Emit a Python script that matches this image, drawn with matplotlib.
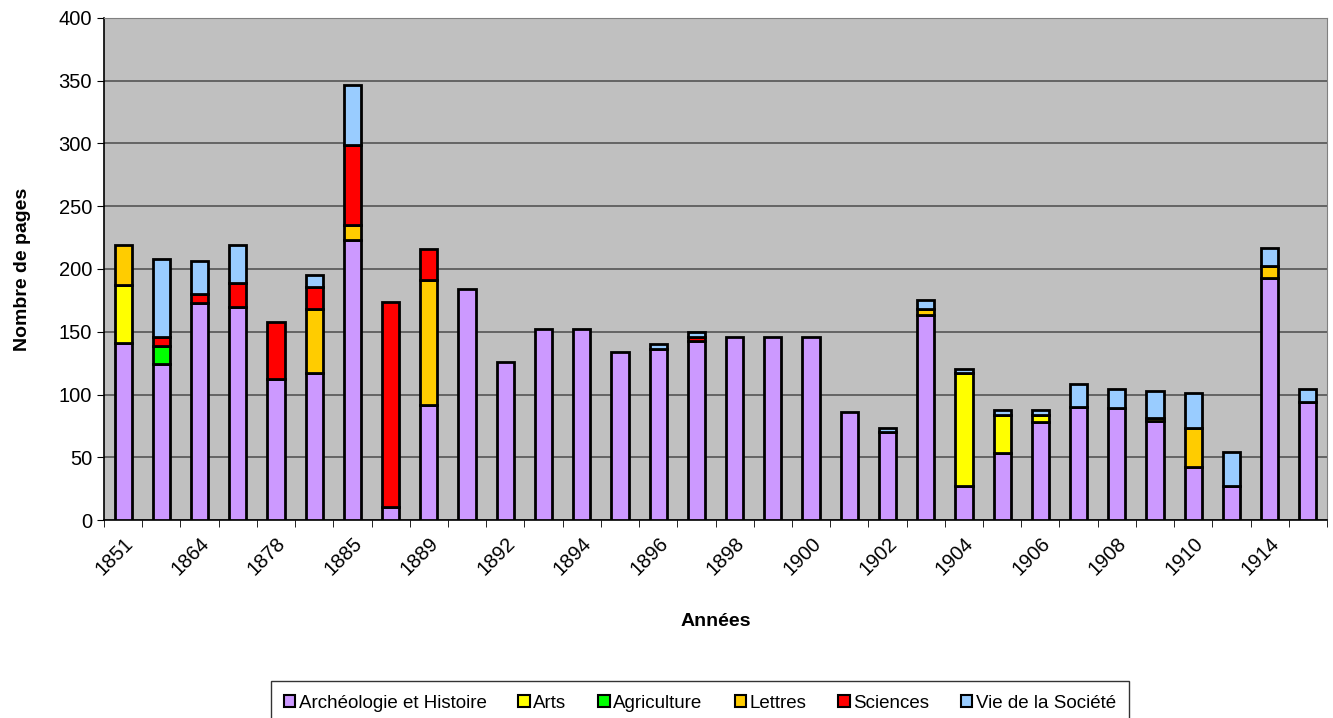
import matplotlib.pyplot as plt
import numpy as np

plt.rcParams['font.family'] = ['Liberation Sans', 'DejaVu Sans']

# one label every other bar, as on the original axis
years = ["1851", "", "1864", "", "1878", "", "1885", "", "1889", "", "1892", "",
         "1894", "", "1896", "", "1898", "", "1900", "", "1902", "", "1904", "",
         "1906", "", "1908", "", "1910", "", "1914", ""]

archeo = [141, 124, 173, 170, 112, 117, 223, 10, 92, 184, 126, 152, 152, 134, 136, 143,
          146, 146, 146, 86, 70, 163, 27, 53, 78, 90, 89, 79, 42, 27, 193, 94]
arts = [46, 0, 0, 0, 0, 0, 0, 0, 0, 0, 0, 0, 0, 0, 0, 0,
        0, 0, 0, 0, 0, 0, 90, 31, 6, 0, 0, 2, 0, 0, 0, 0]
agri = [0, 15, 0, 0, 0, 0, 0, 0, 0, 0, 0, 0, 0, 0, 0, 0,
        0, 0, 0, 0, 0, 0, 0, 0, 0, 0, 0, 0, 0, 0, 0, 0]
lettres = [32, 0, 0, 0, 0, 51, 12, 0, 99, 0, 0, 0, 0, 0, 0, 0,
           0, 0, 0, 0, 0, 5, 0, 0, 0, 0, 0, 0, 31, 0, 9, 0]
sciences = [0, 7, 7, 19, 46, 18, 64, 164, 25, 0, 0, 0, 0, 0, 0, 3,
            0, 0, 0, 0, 0, 0, 0, 0, 0, 0, 0, 0, 0, 0, 0, 0]
vie = [0, 62, 26, 30, 0, 9, 48, 0, 0, 0, 0, 0, 0, 0, 4, 4,
       0, 0, 0, 0, 3, 7, 3, 4, 4, 18, 15, 22, 28, 27, 15, 10]

series = [
    ("Archéologie et Histoire", archeo, "#CC99FF"),
    ("Arts", arts, "#FFFF00"),
    ("Agriculture", agri, "#00FF00"),
    ("Lettres", lettres, "#FFCC00"),
    ("Sciences", sciences, "#FF0000"),
    ("Vie de la Société", vie, "#99CCFF"),
]

fig = plt.figure(figsize=(13.33, 7.18), dpi=100)
ax = fig.add_axes([104 / 1333, 1 - 520 / 718, 1223 / 1333, 502 / 718])
ax.set_facecolor("#C0C0C0")

x = np.arange(len(years))
bottom = np.zeros(len(years))
for name, vals, col in series:
    vals = np.array(vals, dtype=float)
    m = vals > 0  # skip empty segments so they leave no extra edge line
    ax.bar(x[m], vals[m], width=0.45, bottom=bottom[m], color=col, edgecolor="black",
           linewidth=2, label=name, zorder=3)
    bottom += vals

ax.set_xlim(-0.5, len(years) - 0.5)
ax.set_ylim(0, 400)
ax.set_yticks(range(0, 401, 50))
ax.yaxis.grid(True, color="#555555", linewidth=1.2, zorder=1)

ax.set_xticks(x)
ax.set_xticklabels(years, rotation=45, ha="right", rotation_mode="anchor", fontsize=14.5)
ax.tick_params(axis="x", length=0, pad=10)
ax.set_xticks(np.arange(-0.5, len(years)), minor=True)
ax.tick_params(axis="x", which="minor", length=5, direction="out", color="black")
ax.tick_params(axis="y", labelsize=14.5, length=5, direction="out")

for s in ["top", "right"]:
    ax.spines[s].set_color("#808080")
ax.spines["left"].set_linewidth(1.2)
ax.spines["bottom"].set_linewidth(1.2)

ax.set_xlabel("Années", fontsize=14, fontweight="bold")
ax.xaxis.set_label_coords(0.5, -0.185)
ax.set_ylabel("Nombre de pages", fontsize=14, fontweight="bold")
ax.yaxis.set_label_coords(-0.06, 0.5)

leg = fig.legend(loc="upper center", bbox_to_anchor=(700 / 1333, 1 - 672 / 718),
                 ncol=6, fontsize=13.5, frameon=True, fancybox=False,
                 handlelength=0.6, handleheight=0.6, handletextpad=0.2,
                 columnspacing=1.7, borderpad=0.7, edgecolor="black")
leg.get_frame().set_linewidth(1.0)
for h in leg.legend_handles:
    h.set_linewidth(1.5)

fig.savefig("out.png", dpi=100)
